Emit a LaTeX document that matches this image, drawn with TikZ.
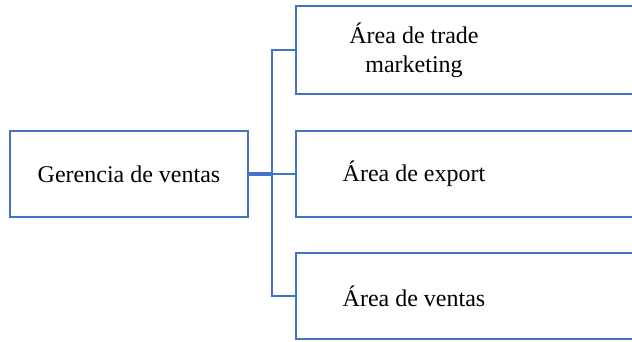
\documentclass[tikz,border=0pt]{standalone}
\usepackage{fontspec}
\setmainfont{Liberation Serif}
\usepackage{tikz}
\usetikzlibrary{positioning, calc}
\definecolor{azul}{HTML}{4472C4}

\begin{document}
\begin{tikzpicture}[
    x=1pt, y=-1pt,
    caja/.style={rectangle, draw=azul, line width=2.4pt, minimum height=86pt, inner sep=0pt},
    texto/.style={align=center, font=\fontsize{24}{29}\selectfont, inner sep=0pt},
    rama/.style={draw=azul, line width=2.4pt},
]
\path[use as bounding box, clip] (0,0) rectangle (632,341);

% Caja principal (izquierda)
\node[caja, minimum width=238pt] (gerencia) at (129,174) {};
\node[texto] (tgerencia) at (gerencia.center) {Gerencia de ventas};

% Cajas de las areas (derecha, cortadas por el borde)
\node[caja, minimum width=420pt, minimum height=88pt, anchor=west] (trade) at (295,50) {};
\node[texto] (ttrade) at (414,50) {Área de trade\\marketing};

\node[caja, minimum width=420pt, anchor=west] (export) at (295,174) {};
\node[texto] (texport) at (414,174) {Área de export};

\node[caja, minimum width=420pt, anchor=west] (ventas) at (295,296) {};
\node[texto] (tventas) at (414,296) {Área de ventas};

% Conectores
\coordinate (tronco) at (272,174);
\draw[rama, line width=3.4pt] (gerencia.east) -- (tronco);
\draw[rama] (tronco) |- (trade.west);
\draw[rama] (tronco) -- (export.west);
\draw[rama] (tronco) |- (ventas.west);

\end{tikzpicture}
\end{document}
